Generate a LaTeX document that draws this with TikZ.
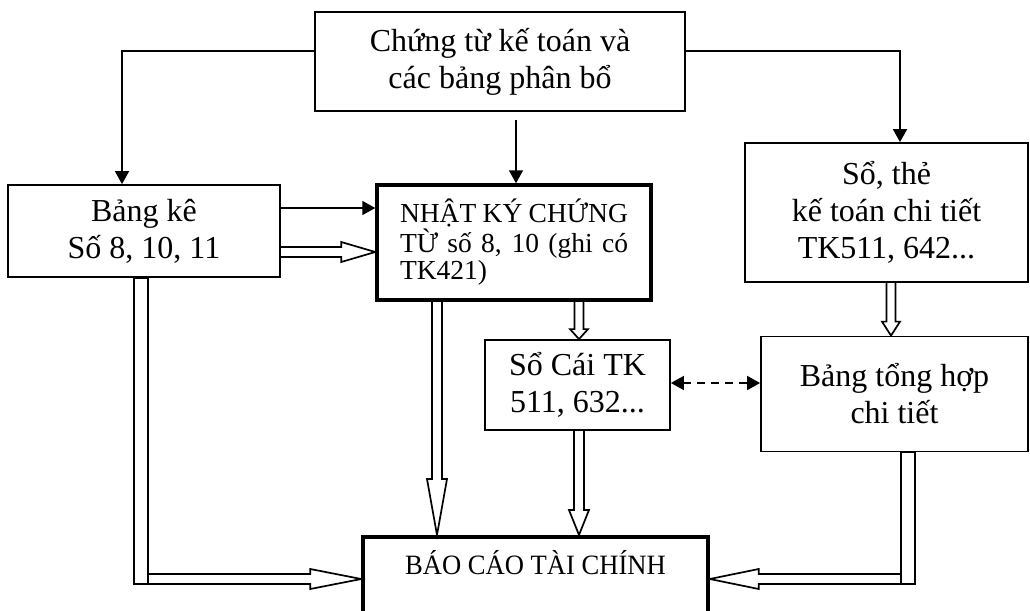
\documentclass[tikz,border=0pt]{standalone}
\usepackage{fontspec}
\setmainfont{Liberation Serif}
\usetikzlibrary{arrows.meta}
\tikzset{
  box/.style={draw, line width=1.8pt, rectangle, inner sep=0pt, align=center,
    font=\fontsize{32}{37}\selectfont},
  thickbox/.style={draw, line width=3.5pt, rectangle, inner sep=0pt},
  conn/.style={line width=1.8pt, -{Triangle[length=13pt,width=14pt]}},
  hollow/.style={line width=1.7pt, line join=miter},
  hollowdown/.style n args={3}{to path={([xshift=-#1]\tikztostart) -- ([xshift=-#1,yshift=#3]\tikztotarget) -- ([xshift=-#2,yshift=#3]\tikztotarget) -- (\tikztotarget) -- ([xshift=#2,yshift=#3]\tikztotarget) -- ([xshift=#1,yshift=#3]\tikztotarget) -- ([xshift=#1]\tikztostart)}},
  hollowright/.style n args={3}{to path={([yshift=#1]\tikztostart) -- ([yshift=#1,xshift=-#3]\tikztotarget) -- ([yshift=#2,xshift=-#3]\tikztotarget) -- (\tikztotarget) -- ([yshift=-#2,xshift=-#3]\tikztotarget) -- ([yshift=-#1,xshift=-#3]\tikztotarget) -- ([yshift=-#1]\tikztostart)}},
  hollowleft/.style n args={3}{to path={([yshift=#1]\tikztostart) -- ([yshift=#1,xshift=#3]\tikztotarget) -- ([yshift=#2,xshift=#3]\tikztotarget) -- (\tikztotarget) -- ([yshift=-#2,xshift=#3]\tikztotarget) -- ([yshift=-#1,xshift=#3]\tikztotarget) -- ([yshift=-#1]\tikztostart)}},
}
\begin{document}
\begin{tikzpicture}[x=1pt,y=-1pt]
\useasboundingbox (0,0) rectangle (1030,610);
\clip (0,0) rectangle (1030,610);
% boxes
\node[box, minimum width=370pt, minimum height=99pt] (top) at (500,61.5) {Chứng từ kế toán và\\các bảng phân bổ};
\node[box, minimum width=272pt, minimum height=92pt] (bangke) at (144,231) {Bảng kê\\Số 8, 10, 11};
\node[thickbox, minimum width=274pt, minimum height=115pt, align=left,
  font=\fontsize{27.5}{27.7}\selectfont] (nk) at (514,242.5)
  {\makebox[228pt][s]{NHẬT KÝ CHỨNG}\\\makebox[228pt][s]{TỪ số 8, 10 (ghi có}\\TK421)};
\node[box, minimum width=283pt, minimum height=139pt] (sothe) at (886.5,212.5) {Sổ, thẻ\\kế toán chi tiết\\TK511, 642...};
\node[box, minimum width=185pt, minimum height=90pt] (socai) at (577.5,385) {Sổ Cái TK\\511, 632...};
\node[box, minimum width=267pt, minimum height=115pt] (bth) at (894.5,394) {Bảng tổng hợp\\chi tiết};
\node[thickbox, anchor=north, minimum width=345pt, text height=38pt, text depth=50pt,
  font=\fontsize{28}{30}\selectfont] (bctc) at (535.5,535) {\scalebox{0.95}[1]{BÁO CÁO TÀI CHÍNH}};
% single-line connectors
\coordinate (t3) at (516,120);
\draw[conn] (top.west |- 0,51) -| (bangke.north -| 122,0);
\draw[conn] (top.east |- 0,51) -| (sothe.north -| 900,0);
\draw[conn] (t3) -- (nk.north -| 516,0);
\draw[conn] (bangke.east |- 0,208) -- (nk.west |- 0,208);
\draw[line width=1.8pt, dash pattern=on 8pt off 6pt,
  {Triangle[length=13pt,width=14pt]}-{Triangle[length=13pt,width=14pt]}]
  (socai.east |- 0,383) -- (bth.west |- 0,383);
% hollow connectors
\draw[hollow] (bangke.east |- 0,252) to[hollowright={5pt}{10pt}{34pt}] (nk.west |- 0,252);
\draw[hollow] (nk.south -| 437,0) to[hollowdown={5pt}{10pt}{56pt}] (bctc.north -| 437,0);
\draw[hollow] (nk.south -| 579,0) to[hollowdown={4.5pt}{9pt}{10pt}] (socai.north -| 579,0);
\draw[hollow] (socai.south -| 579,0) to[hollowdown={5pt}{10pt}{25pt}] (bctc.north -| 579,0);
\draw[hollow] (sothe.south -| 891,0) to[hollowdown={4.5pt}{9pt}{14pt}] (bth.north -| 891,0);
\coordinate (c1) at (148,579);
\coordinate (c2) at (901,579);
\draw[hollow] (bangke.south -| 134,0) rectangle (148,584);
\draw[hollow] (c1) to[hollowright={5pt}{10pt}{51pt}] (bctc.west |- c1);
\draw[hollow] (bth.south -| 901,0) rectangle (915,584);
\draw[hollow] (c2) to[hollowleft={5pt}{10pt}{49pt}] (bctc.east |- c2);
\end{tikzpicture}
\end{document}
